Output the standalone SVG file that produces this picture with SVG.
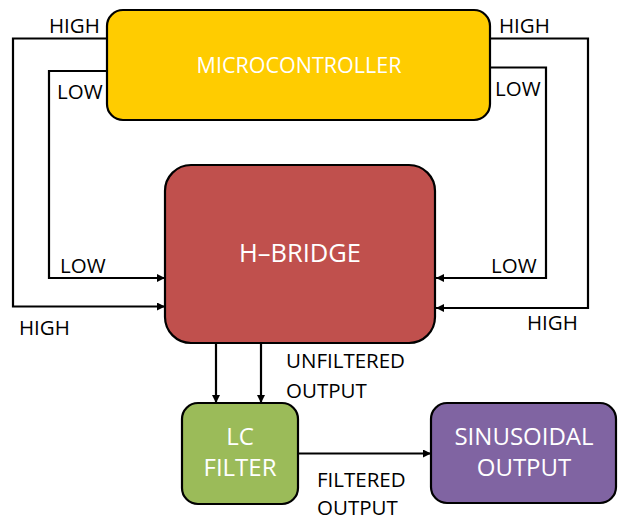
<svg xmlns="http://www.w3.org/2000/svg" width="618" height="521" viewBox="0 0 618 521">
  <style>
    .box { stroke: #000; stroke-width: 2.2; }
    .inner { fill: #fff; font-family: "Open Sans", "Noto Sans", sans-serif; text-anchor: middle; }
    .lbl { fill: #000; font-family: "Open Sans", "Noto Sans", sans-serif; font-size: 20.5px; }
    .wire { fill: none; stroke: #000; stroke-width: 2.2; }
  </style>
  <defs>
    <marker id="arrow" viewBox="0 0 10 10" refX="10" refY="5" markerWidth="9" markerHeight="8" markerUnits="userSpaceOnUse" orient="auto">
      <path d="M0,0 L10,5 L0,10 z" fill="#000"/>
    </marker>
  </defs>
  <rect width="618" height="521" fill="#fff"/>

  <g id="microcontroller">
    <rect class="box" x="107" y="10" width="383" height="110" rx="16" fill="#FFCC00"/>
    <text class="inner" x="299" y="73" font-size="21.5">MICROCONTROLLER</text>
  </g>

  <g id="h-bridge">
    <rect class="box" x="165" y="165" width="270" height="178" rx="26" fill="#C0504D"/>
    <text class="inner" x="300" y="262" font-size="25.5">H–BRIDGE</text>
  </g>

  <g id="lc-filter">
    <rect class="box" x="182" y="403" width="116" height="101" rx="16" fill="#9BBB59"/>
    <text class="inner" x="240" y="445" font-size="24">LC</text>
    <text class="inner" x="240" y="476" font-size="24">FILTER</text>
  </g>

  <g id="sinusoidal-output">
    <rect class="box" x="431" y="403" width="185" height="100" rx="16" fill="#8064A2"/>
    <text class="inner" x="524" y="445" font-size="24">SINUSOIDAL</text>
    <text class="inner" x="524" y="476" font-size="24">OUTPUT</text>
  </g>

  <g id="connectors">
    <path class="wire" d="M107,38.5 H13 V306.5 H165" marker-end="url(#arrow)"/>
    <path class="wire" d="M107,71 H49 V278 H165" marker-end="url(#arrow)"/>
    <path class="wire" d="M490,38.5 H588 V308 H436" marker-end="url(#arrow)"/>
    <path class="wire" d="M490,67.5 H546 V278 H436" marker-end="url(#arrow)"/>
    <path class="wire" d="M216,343 V403" marker-end="url(#arrow)"/>
    <path class="wire" d="M261,343 V403" marker-end="url(#arrow)"/>
    <path class="wire" d="M298,453.5 H431" marker-end="url(#arrow)"/>
  </g>

  <g id="labels">
    <text class="lbl" x="49" y="33">HIGH</text>
    <text class="lbl" x="57" y="99">LOW</text>
    <text class="lbl" x="60" y="273">LOW</text>
    <text class="lbl" x="19" y="335">HIGH</text>
    <text class="lbl" x="499" y="33">HIGH</text>
    <text class="lbl" x="495" y="96">LOW</text>
    <text class="lbl" x="491" y="273">LOW</text>
    <text class="lbl" x="527" y="330">HIGH</text>
    <text class="lbl" x="286" y="368">UNFILTERED</text>
    <text class="lbl" x="286" y="398">OUTPUT</text>
    <text class="lbl" x="317" y="487">FILTERED</text>
    <text class="lbl" x="317" y="515">OUTPUT</text>
  </g>
</svg>
